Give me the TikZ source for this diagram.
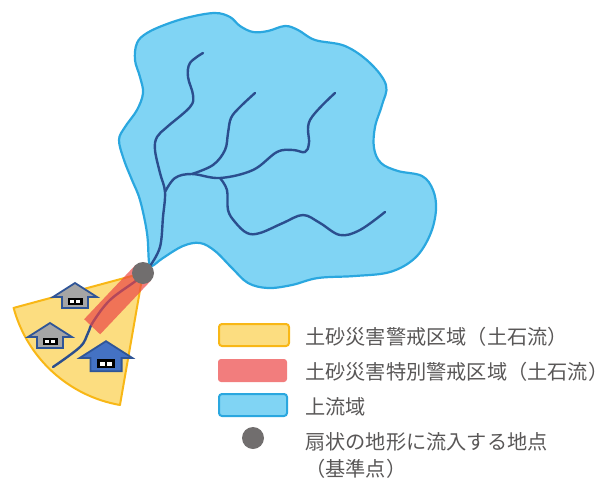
\documentclass[tikz,border=0pt]{standalone}
\usepackage{fontspec}
\newfontfamily\jp{Noto Sans CJK JP}
\definecolor{fanfill}{HTML}{FCDD80}
\definecolor{fanline}{HTML}{F8B716}
\definecolor{zonered}{HTML}{EC4646}
\definecolor{basinfill}{HTML}{80D4F4}
\definecolor{basinline}{HTML}{2AA7DF}
\definecolor{river}{HTML}{2B4E8E}
\definecolor{pointgray}{HTML}{716E6E}
\definecolor{housegray}{HTML}{A5A5A5}
\definecolor{houseblue}{HTML}{4472C4}
\definecolor{houseline}{HTML}{2F5597}
\definecolor{labeltext}{HTML}{595757}
\tikzset{
  riverline/.style={draw=river, line width=2.4pt, line cap=round, line join=round},
  fanarea/.style={fill=fanfill, draw=fanline, line width=2pt, line join=round},
  basinarea/.style={fill=basinfill, draw=basinline, line width=2.2pt},
  dangerband/.style={fill=zonered, fill opacity=0.7},
  basepoint/.style={circle, fill=pointgray, minimum size=22pt, inner sep=0pt},
  legendlabel/.style={anchor=west, inner sep=0pt, text=labeltext, font=\jp\fontsize{20.2}{25}\selectfont},
  % house drawn with the roof on the positive side (pics ignore the picture's flip)
  pics/house/.style={code={
    \draw[fill=#1, draw=houseline, line width=1.8pt, line join=miter]
      (-13,-11) -- (-13,0) -- (-22,0) -- (0,14) -- (22,0) -- (13,0) -- (13,-11) -- cycle;
    \fill[black] (-7.5,-1.2) rectangle (7.5,-8);
    \fill[white] (-5,-3.3) rectangle (-1,-6.3);
    \fill[white] (1,-3.3) rectangle (5,-6.3);
  }}
}
\begin{document}
\begin{tikzpicture}[x=1pt, y=1pt, yscale=-1]
\useasboundingbox (0,0) rectangle (613,479);
\coordinate (apex) at (143,273);

% alluvial fan (warning zone)
\draw[fanarea] (apex) -- ++(164.9:134) arc[start angle=164.9, end angle=99.9, radius=134pt] -- cycle;

% stream across the fan
\draw[riverline] plot[smooth, tension=0.6] coordinates {(143,273) (137,280) (110,300) (93,322) (88,333) (80,347) (53,367)};

% special warning zone along the stream
\begin{scope}[shift={(apex)}, rotate=133.4]
  \fill[dangerband] (0,-11) rectangle (74,11);
\end{scope}

% houses on the fan
\pic at (75,297) {house=housegray};
\pic at (50,337) {house=housegray};
\pic[scale=1.2] at (106,358) {house=houseblue};

% upstream basin
\draw[basinarea] plot[smooth cycle, tension=0.6] coordinates {
  (149,262) (147,233) (140,200) (132,180) (124,160) (119,140) (125,127)
  (137,110) (143,93) (140,77) (135,60) (137,43) (147,33) (167,24)
  (190,17) (215,13) (230,17) (240,26) (253,32) (268,31) (285,26)
  (298,30) (315,40) (345,46) (370,63) (386,85) (382,105) (375,127)
  (374,148) (381,163) (398,171) (422,176) (433,190) (436,210) (430,235)
  (415,258) (390,272) (355,276) (318,278) (292,285) (268,288) (248,283)
  (232,268) (215,251) (200,243) (183,246) (163,258) (152,266)};

% channel network
\draw[riverline] plot[smooth, tension=0.6] coordinates {(150,266) (160,247) (163,217) (165,192) (160,173) (155,150) (157,137) (167,127) (190,107) (193,95) (188,77) (190,63) (203,53)};
\draw[riverline] plot[smooth, tension=0.6] coordinates {(165,192) (175,178) (192,174) (220,178) (253,170) (277,152) (293,150) (305,152) (309,143) (310,120) (335,93)};
\draw[riverline] plot[smooth, tension=0.6] coordinates {(192,174) (213,165) (225,150) (228,133) (231,118) (240,107) (255,93)};
\draw[riverline] plot[smooth, tension=0.6] coordinates {(220,178) (227,190) (228,210) (235,222) (247,233) (260,233) (283,223) (303,215) (320,223) (340,235) (360,230) (385,212)};

% reference point
\node[basepoint] (pt) at (apex) {};

% legend
\draw[fill=fanfill, draw=fanline, line width=2pt, rounded corners=3pt] (219,324) rectangle (289,346);
\fill[zonered, fill opacity=0.7, rounded corners=3pt] (218,359) rectangle (287,382);
\draw[fill=basinfill, draw=basinline, line width=2pt, rounded corners=3pt] (219,394) rectangle (287,416);
\node[basepoint] (legpt) at (253,438) {};

\node[legendlabel] (l1) at (305,337) {土砂災害警戒区域（土石流）};
\node[legendlabel] (l2) at (305,372) {土砂災害特別警戒区域（土石流）};
\node[legendlabel] (l3) at (305,407) {上流域};
\node[legendlabel] (l4) at (305,442) {扇状の地形に流入する地点};
\node[legendlabel] (l5) at (305,469) {（基準点）};
\end{tikzpicture}
\end{document}
